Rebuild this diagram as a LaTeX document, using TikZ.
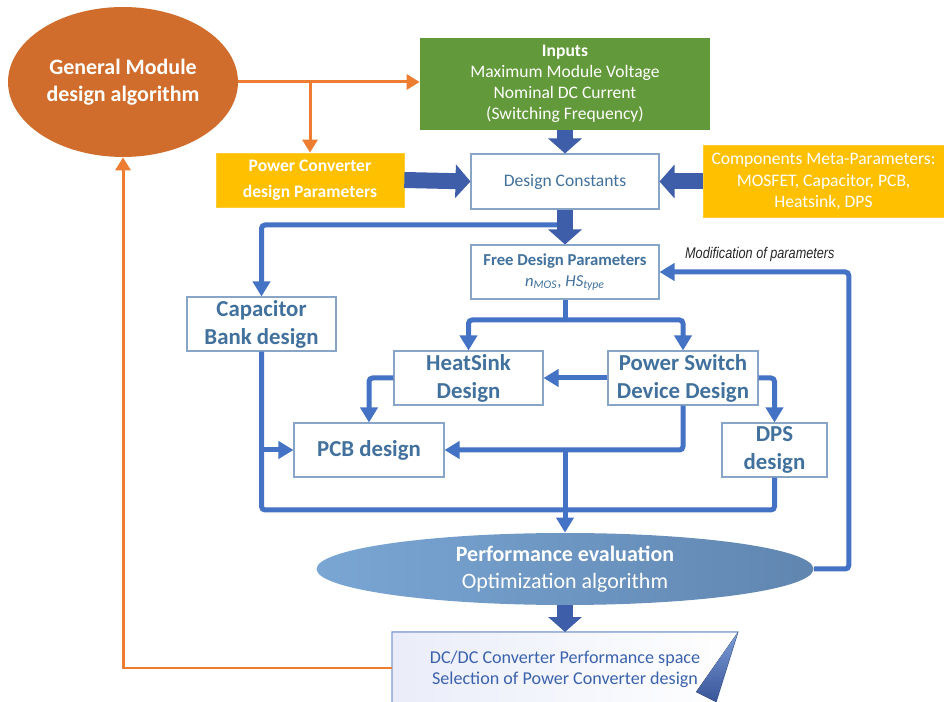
\documentclass[tikz,border=0pt]{standalone}
\usepackage{fontspec}
\setmainfont{Carlito}
\newfontfamily\narrowit[FakeStretch=0.82]{Liberation Sans}
\usetikzlibrary{arrows.meta,shapes.geometric}
\definecolor{orangeline}{RGB}{237,125,49}
\definecolor{gmafill}{RGB}{208,109,44}
\definecolor{inputgreen}{RGB}{98,153,58}
\definecolor{amber}{RGB}{255,192,0}
\definecolor{boxedge}{RGB}{136,164,198}
\definecolor{boxtext}{RGB}{65,113,156}
\definecolor{connblue}{RGB}{68,114,196}
\definecolor{fatblue}{RGB}{62,94,170}
\definecolor{perfl}{RGB}{122,166,212}
\definecolor{perfr}{RGB}{96,134,176}
\definecolor{resl}{RGB}{234,237,249}
\definecolor{resedge}{RGB}{127,156,214}
\definecolor{restext}{RGB}{59,98,172}

\tikzset{
  blk/.style={draw=boxedge,line width=0.6pt,fill=white,text=boxtext,align=center,inner sep=0pt,minimum height=1.08cm},
  big/.style={blk,font=\fontsize{13}{15.9}\selectfont\bfseries},
  bus/.style={draw=connblue,line width=0.1cm,rounded corners=2pt},
  conn/.style={bus,-{Triangle[length=0.3cm,width=0.34cm]}},
  fat/.style={draw=fatblue,line width=0.32cm,-{Triangle[length=0.3cm,width=0.66cm]}},
  feed/.style={draw=orangeline,line width=0.06cm,-{Triangle[length=0.26cm,width=0.3cm]}}
}

\begin{document}
\begin{tikzpicture}[x=0.02cm,y=-0.02cm]
\useasboundingbox (0,0) rectangle (944,702);

\fill[left color=resl,right color=white](392,632)--(738,632)--(713,712)--(392,712)--cycle;
\draw[resedge,line width=0.6pt](392,712)--(392,632)--(738,632)--(713,712);
\fill[top color=connblue!70,bottom color=fatblue!90!black](738,632)--(696,692)--(716,702)--cycle;
\node[text=restext,align=center,font=\fontsize{10.3}{11.9}\selectfont](result)at(565,669){DC/DC Converter Performance space\\Selection of Power Converter design};
\coordinate(resw)at(392,668);
\coordinate(resn)at(565,632);

\node[ellipse,fill=gmafill,text=white,minimum width=4.6cm,minimum height=3cm,inner sep=0pt,align=center,font=\fontsize{12.5}{15.3}\selectfont\bfseries](gma)at(123,82){General Module\\design algorithm};
\node[fill=inputgreen,text=white,minimum width=5.8cm,minimum height=1.84cm,inner sep=0pt,align=center,font=\fontsize{10}{11.9}\selectfont](inputs)at(565,84){\textbf{Inputs}\\Maximum Module Voltage\\Nominal DC Current\\(Switching Frequency)};
\node[blk,minimum width=3.76cm,minimum height=1.1cm,font=\fontsize{10}{12}\selectfont](dconst)at(565,181.5){Design Constants};
\node[fill=amber,draw=amber!80!white,text=white,minimum width=3.76cm,minimum height=1.08cm,inner sep=0pt,align=center,font=\fontsize{10}{14.7}\selectfont\bfseries](pcparam)at(310,180){Power Converter\\design Parameters};
\node[fill=amber,draw=amber!80!white,text=white,minimum width=4.82cm,minimum height=1.44cm,inner sep=0pt,align=center,font=\fontsize{10}{12.2}\selectfont](meta)at(823.5,181.5){Components Meta-Parameters:\\MOSFET, Capacitor, PCB,\\Heatsink, DPS};
\node[blk,minimum width=3.76cm,font=\fontsize{9.5}{12}\selectfont](fdp)at(565,272){\textbf{Free Design Parameters}\\\textit{n}\textsubscript{\textit{MOS}}, \textit{HS}\textsubscript{\textit{type}}};
\node[big,minimum width=2.98cm](capbank)at(261.5,324){Capacitor\\Bank design};
\node[big,minimum width=2.98cm](heatsink)at(468.5,378){HeatSink\\Design};
\node[big,minimum width=3cm](pswitch)at(683,378){Power Switch\\Device Design};
\node[big,minimum width=2.1cm](dps)at(774.5,450){DPS\\design};
\node[big,minimum width=3cm](pcb)at(369,450){PCB design};
\node[ellipse,left color=perfl,right color=perfr,text=white,minimum width=9.94cm,minimum height=1.44cm,inner sep=0pt,align=center,font=\fontsize{12.5}{15.3}\selectfont](perf)at(565,569){\textbf{Performance evaluation}\\Optimization algorithm};

\coordinate(capsplit)at(565,225);
\coordinate(fork)at(565,320);
\coordinate(bus)at(565,510);

\draw[feed](gma.east)--(gma.east-|inputs.west);
\draw[feed](gma.east-|pcparam.north)--(pcparam.north);
\draw[feed](resw)-|(gma.south);

\draw[conn](capsplit)-|(capbank.north);
\foreach \a/\b in {inputs.south/dconst.north,pcparam.east/dconst.west,meta.west/dconst.east,dconst.south/fdp.north,perf.south/resn}
  \draw[fat](\a)--(\b);

\draw[bus](fdp.south)--(fork);
\draw[conn](fork)-|(heatsink.north);
\draw[conn](fork)-|(pswitch.north);
\draw[conn](pswitch.west)--(heatsink.east);
\draw[conn](heatsink.west)-|(pcb.north);
\draw[conn](pswitch.east)-|(dps.north);
\draw[bus](capbank.south)|-(bus)-|(dps.south);
\draw[conn](capbank.south|-pcb.west)--(pcb.west);
\draw[conn](pswitch.south)|-(pcb.east);
\draw[conn](pcb.east-|perf.north)--(perf.north);
\draw[conn](perf.east)--++(35,0)|-(fdp.east)node[pos=0.735,above=1pt,text=black!85,font=\narrowit\itshape\fontsize{8.8}{10}\selectfont]{Modification of parameters};
\end{tikzpicture}
\end{document}
